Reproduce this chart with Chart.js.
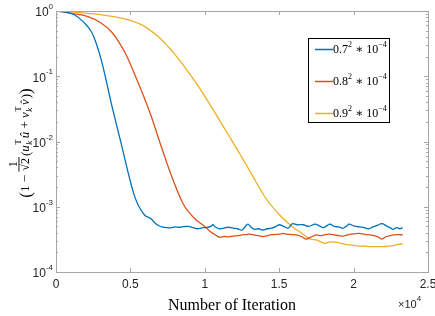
<!DOCTYPE html>
<html>
<head>
<meta charset="utf-8">
<script src="https://cdn.jsdelivr.net/npm/chart.js@4.4.1/dist/chart.umd.min.js"></script>
<style>
  html, body { margin: 0; padding: 0; background: #fff; }
  #wrap { width: 435px; height: 316px; }
</style>
</head>
<body>
<div id="wrap"><canvas id="c"></canvas></div>
<script>
// iterations (x) and error values (y)
var iterBlue = [0, 500, 1260, 1930, 2380, 2700, 3050, 3390, 3720, 4170, 4500, 4840, 5170, 5510, 5960, 6200, 6410, 6600, 6860, 7100,
    7400, 7700, 8000, 8300, 8600, 8900, 9200, 9500, 9800, 10100, 10400, 10550, 10700, 11000, 11300, 11600, 11900, 12200, 12500,
    12700, 12900, 13100, 13350, 13600, 13900, 14200, 14500, 14800, 15000, 15300, 15600, 15750, 15900, 16200, 16600, 17000,
    17400, 17700, 17950, 18200, 18400, 18700, 19000, 19300, 19500, 19700, 20000, 20400, 20700, 21000, 21300, 21600, 21900,
    22200, 22500, 22650, 22900, 23100, 23300];
var valBlue = [1.0, 0.98, 0.87, 0.65, 0.48, 0.32, 0.175, 0.083, 0.038, 0.0145, 7.2e-3, 3.4e-3, 1.75e-3, 1.07e-3, 7.4e-4, 6.9e-4, 6.5e-4, 5.8e-4, 5.2e-4, 4.9e-4,
    4.8e-4, 4.75e-4, 4.9e-4, 4.85e-4, 4.95e-4, 5.0e-4, 4.8e-4, 4.6e-4, 4.75e-4, 4.8e-4, 5.0e-4, 5.3e-4, 4.9e-4, 4.6e-4, 4.7e-4, 4.85e-4, 4.7e-4, 4.6e-4, 4.4e-4,
    4.9e-4, 5.4e-4, 4.9e-4, 4.5e-4, 4.6e-4, 4.4e-4, 4.6e-4, 4.7e-4, 5.0e-4, 5.3e-4, 5.0e-4, 4.7e-4, 5.1e-4, 5.5e-4, 5.3e-4, 5.3e-4, 5.0e-4,
    5.4e-4, 5.1e-4, 4.8e-4, 5.1e-4, 5.4e-4, 5.0e-4, 4.9e-4, 4.7e-4, 5.0e-4, 5.4e-4, 5.1e-4, 4.9e-4, 4.8e-4, 4.6e-4, 4.9e-4, 5.2e-4, 5.5e-4,
    5.1e-4, 4.7e-4, 4.5e-4, 4.8e-4, 4.6e-4, 4.8e-4];

var iterRed = [0, 1030, 2150, 3050, 3720, 4280, 4730, 5300, 5850, 6410, 6900, 7300, 7860, 8530, 9000, 9440, 9660, 10000, 10300, 10550, 10800,
    11000, 11300, 11600, 11900, 12200, 12500, 12800, 13000, 13300, 13600, 13900, 14100, 14400, 14700, 15000, 15250, 15500, 15800,
    16150, 16500, 16800, 17100, 17500, 17800, 18100, 18400, 18700, 19000, 19300, 19600, 20000, 20400, 20700, 21100, 21400, 21700,
    21900, 22200, 22650, 23000, 23300];
var valRed = [1.0, 0.92, 0.82, 0.65, 0.48, 0.32, 0.21, 0.105, 0.052, 0.024, 0.011, 5.9e-3, 2.6e-3, 1.12e-3, 7.9e-4, 6.2e-4, 5.7e-4, 5.0e-4, 4.3e-4, 3.9e-4, 3.6e-4,
    3.4e-4, 3.5e-4, 3.45e-4, 3.55e-4, 3.6e-4, 3.7e-4, 3.75e-4, 3.8e-4, 3.7e-4, 3.6e-4, 3.5e-4, 3.55e-4, 3.7e-4, 3.75e-4, 3.8e-4, 3.9e-4, 3.8e-4, 3.75e-4,
    3.7e-4, 3.5e-4, 3.2e-4, 3.4e-4, 3.7e-4, 3.6e-4, 3.75e-4, 3.8e-4, 3.7e-4, 3.6e-4, 3.55e-4, 3.7e-4, 3.85e-4, 3.9e-4, 3.8e-4, 3.7e-4, 3.6e-4, 3.4e-4,
    3.2e-4, 3.5e-4, 3.7e-4, 3.75e-4, 3.7e-4];

var iterYellow = [0, 1000, 2150, 3300, 4400, 5000, 5740, 6300, 6850, 7300, 7750, 8530, 9660, 10800, 11800, 12350, 13240, 14100, 15000, 15900, 16400,
    16800, 17100, 17500, 17800, 18050, 18300, 18600, 19000, 19300, 19700, 20000, 20400, 20700, 21100, 21500, 22000, 22400, 22700, 23000, 23300];
var valYellow = [1.0, 0.97, 0.92, 0.86, 0.78, 0.716, 0.62, 0.51, 0.41, 0.324, 0.25, 0.151, 0.065, 0.025, 0.0105, 6.5e-3, 2.9e-3, 1.35e-3, 7.6e-4, 4.9e-4, 4.1e-4,
    3.5e-4, 3.2e-4, 3.1e-4, 2.9e-4, 2.75e-4, 2.85e-4, 2.9e-4, 2.8e-4, 2.7e-4, 2.6e-4, 2.55e-4, 2.5e-4, 2.5e-4, 2.45e-4, 2.45e-4, 2.45e-4, 2.5e-4, 2.55e-4, 2.65e-4, 2.7e-4];

var legendBase = ['0.7', '0.8', '0.9'];
var xTicks = [0, 5000, 10000, 15000, 20000, 25000];
var xTickLabels = ['0', '0.5', '1', '1.5', '2', '2.5'];
var yDecades = [0, -1, -2, -3, -4];

var colors = ['#0072BD', '#D95319', '#EDB120'];
var SERIF = '"Liberation Serif", "DejaVu Serif", serif';
var SANS = '"Liberation Sans", Arial, sans-serif';

function toPoints(xs, ys) {
    return xs.map(function (x, i) { return { x: x, y: ys[i] }; });
}

function drawYLabel(ctx) {
    function run(draw) {
        var x = 0;
        function txt(s, font, dy) {
            ctx.font = font;
            if (draw) ctx.fillText(s, x, dy);
            x += ctx.measureText(s).width;
        }
        function subsup(sub, sup) {
            ctx.font = 'italic 9px ' + SERIF;
            var w = Math.max(ctx.measureText(sub).width, ctx.measureText(sup).width);
            if (draw) {
                ctx.fillText(sub, x + 0.5, 3);
                ctx.font = '9px ' + SERIF;
                ctx.fillText(sup, x + 0.5, -8);
            }
            x += w + 2;
        }
        txt('(', '17px ' + SERIF, 2);
        txt('1 \u2212 ', '13px ' + SERIF, 0);
        // fraction 1 / sqrt(2)
        ctx.font = '12px ' + SERIF;
        var wd = ctx.measureText('\u221A2').width;
        var wn = ctx.measureText('1').width;
        if (draw) {
            ctx.fillText('1', x + (wd - wn) / 2 + 1, -12);
            ctx.fillRect(x, -10.5, wd + 2, 0.9);
            ctx.fillText('\u221A2', x + 1, 0);
        }
        x += wd + 3;
        txt('(', '13px ' + SERIF, 1);
        txt('u', 'italic 13px ' + SERIF, 0);
        subsup('k', 'T');
        txt('\u00FB', 'italic 13px ' + SERIF, 0);
        txt(' + ', '13px ' + SERIF, 0);
        txt('v', 'italic 13px ' + SERIF, 0);
        subsup('k', 'T');
        ctx.font = 'italic 13px ' + SERIF;
        var wv = ctx.measureText('v').width;
        if (draw) {
            ctx.fillText('v', x, 0);
            ctx.font = '11px ' + SERIF;
            ctx.fillText('\u02C6', x + 1.5, -1);
        }
        x += wv + 1;
        txt(')', '13px ' + SERIF, 1);
        txt(')', '17px ' + SERIF, 2);
        return x;
    }
    ctx.save();
    ctx.fillStyle = '#000';
    ctx.textBaseline = 'alphabetic';
    ctx.textAlign = 'left';
    var total = run(false);
    ctx.translate(29, 143);
    ctx.rotate(-Math.PI / 2);
    ctx.translate(-total / 2, 0);
    run(true);
    ctx.restore();
}

var decorPlugin = {
    id: 'decor',
    afterDraw: function (chart) {
        var ctx = chart.ctx;
        var a = chart.chartArea;
        var xs = chart.scales.x, ys = chart.scales.y;
        ctx.save();
        // axes box and inward ticks
        ctx.strokeStyle = '#a6a6a6';
        ctx.lineWidth = 1;
        ctx.strokeRect(Math.round(a.left) + 0.5, Math.round(a.top) + 0.5,
            Math.round(a.right - a.left), Math.round(a.bottom - a.top));
        ctx.beginPath();
        xTicks.forEach(function (v) {
            var px = Math.round(xs.getPixelForValue(v)) + 0.5;
            ctx.moveTo(px, a.bottom); ctx.lineTo(px, a.bottom - 4);
            ctx.moveTo(px, a.top); ctx.lineTo(px, a.top + 4);
        });
        yDecades.forEach(function (e) {
            var py = Math.round(ys.getPixelForValue(Math.pow(10, e))) + 0.5;
            ctx.moveTo(a.left, py); ctx.lineTo(a.left + 4, py);
            ctx.moveTo(a.right, py); ctx.lineTo(a.right - 4, py);
            if (e < 0) {
                for (var m = 2; m < 10; m++) {
                    var pm = Math.round(ys.getPixelForValue(m * Math.pow(10, e))) + 0.5;
                    ctx.moveTo(a.left, pm); ctx.lineTo(a.left + 2, pm);
                    ctx.moveTo(a.right, pm); ctx.lineTo(a.right - 2, pm);
                }
            }
        });
        ctx.stroke();

        // tick labels
        ctx.fillStyle = '#262626';
        ctx.textBaseline = 'middle';
        ctx.textAlign = 'center';
        ctx.font = '12px ' + SANS;
        xTicks.forEach(function (v, i) {
            ctx.fillText(xTickLabels[i], xs.getPixelForValue(v), a.bottom + 13);
        });
        yDecades.forEach(function (e) {
            var py = ys.getPixelForValue(Math.pow(10, e));
            var sup = e === 0 ? '0' : '-' + (-e);
            ctx.font = '8px ' + SANS;
            ctx.textAlign = 'right';
            var right = a.left - 3;
            ctx.fillText(sup, right, py - 4);
            var ws = ctx.measureText(sup).width;
            ctx.font = '12px ' + SANS;
            ctx.fillText('10', right - ws, py + 2);
        });
        // x exponent
        ctx.textAlign = 'left';
        ctx.font = '11px ' + SANS;
        ctx.fillText('\u00D710', a.right - 30, a.bottom + 33);
        var w10 = ctx.measureText('\u00D710').width;
        ctx.font = '8px ' + SANS;
        ctx.fillText('4', a.right - 30 + w10, a.bottom + 27);

        // axis titles
        ctx.fillStyle = '#000';
        ctx.textAlign = 'center';
        ctx.textBaseline = 'alphabetic';
        ctx.font = '16px ' + SERIF;
        ctx.fillText('Number of Iteration', 232, a.bottom + 38);
        drawYLabel(ctx);

        // legend
        var lx = 308.5, ly = 38.5, lw = 81, lh = 84;
        ctx.fillStyle = '#fff';
        ctx.fillRect(lx, ly, lw, lh);
        ctx.strokeStyle = '#000';
        ctx.strokeRect(lx, ly, lw, lh);
        chart.data.datasets.forEach(function (ds, i) {
            var yy = 49 + i * 32;
            ctx.strokeStyle = ds.borderColor;
            ctx.lineWidth = 1.5;
            ctx.beginPath();
            ctx.moveTo(315, yy + 0.5); ctx.lineTo(333, yy + 0.5);
            ctx.stroke();
            ctx.fillStyle = '#000';
            ctx.textAlign = 'left';
            ctx.textBaseline = 'alphabetic';
            var x = 333, base = yy + 4;
            ctx.font = '12px ' + SERIF;
            ctx.fillText(legendBase[i], x, base); x += ctx.measureText(legendBase[i]).width;
            ctx.font = '8px ' + SERIF;
            ctx.fillText('2', x, base - 6); x += ctx.measureText('2').width;
            ctx.font = '12px ' + SERIF;
            ctx.fillText(' \u2217 10', x, base); x += ctx.measureText(' \u2217 10').width;
            ctx.font = '8px ' + SERIF;
            ctx.fillText('\u22124', x, base - 6);
        });
        ctx.restore();
    }
};

new Chart(document.getElementById('c'), {
    type: 'line',
    data: {
        datasets: [
            { label: '0.7^2*10^-4', data: toPoints(iterBlue, valBlue), borderColor: colors[0] },
            { label: '0.8^2*10^-4', data: toPoints(iterRed, valRed), borderColor: colors[1] },
            { label: '0.9^2*10^-4', data: toPoints(iterYellow, valYellow), borderColor: colors[2] }
        ]
    },
    options: {
        responsive: true,
        maintainAspectRatio: false,
        animation: false,
        devicePixelRatio: 1,
        layout: { padding: { top: 11, right: 7, left: 0, bottom: 0 } },
        elements: {
            line: { borderWidth: 1.3, fill: false, tension: 0.4 },
            point: { radius: 0 }
        },
        plugins: { legend: { display: false }, tooltip: { enabled: false } },
        scales: {
            x: {
                type: 'linear', min: 0, max: 25000,
                grid: { display: false, drawTicks: false },
                border: { display: false },
                ticks: { display: false },
                afterFit: function (s) { s.height = 44; }
            },
            y: {
                type: 'logarithmic', min: 1e-4, max: 1,
                grid: { display: false, drawTicks: false },
                border: { display: false },
                ticks: { display: false },
                afterFit: function (s) { s.width = 56; }
            }
        }
    },
    plugins: [decorPlugin]
});
</script>
</body>
</html>
